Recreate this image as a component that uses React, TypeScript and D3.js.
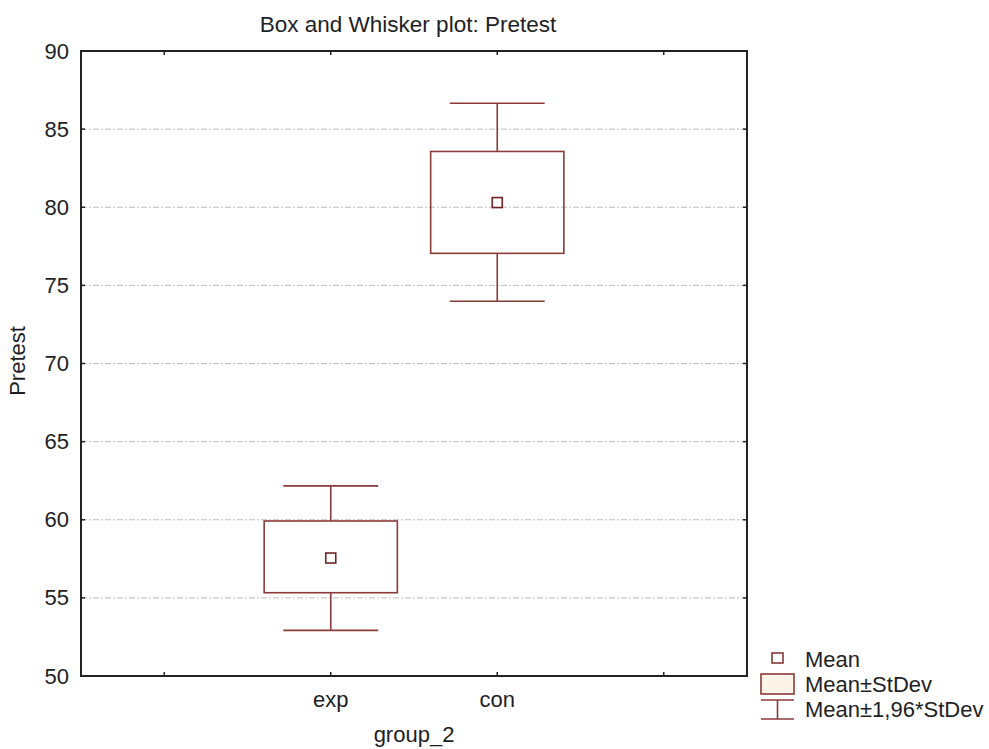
import React from 'react';
import * as d3 from 'd3';

// x slots: STATISTICA leaves an empty slot on each side
const slotLabels = ['', 'exp', 'con', ''];
const groups = ['exp', 'con'];
const means = [57.55, 80.3];
const sdLow = [55.33, 77.05];
const sdHigh = [59.92, 83.57];
const ciLow = [52.92, 73.98];
const ciHigh = [62.17, 86.66];
const yTicks = [50, 55, 60, 65, 70, 75, 80, 85, 90];
const legendLabels = ['Mean', 'Mean±StDev', 'Mean±1,96*StDev'];

const W = 989;
const H = 749;
const plot = { left: 81, right: 747, top: 51, bottom: 676 };
const boxColor = '#8b3a3a';
const font = 'Liberation Sans, Arial, sans-serif';

export default function App() {
  const x = d3
    .scaleBand<number>()
    .domain(d3.range(slotLabels.length))
    .range([plot.left, plot.right])
    .padding(0);
  const y = d3.scaleLinear().domain([50, 90]).range([plot.bottom, plot.top]);
  const bw = x.bandwidth();
  const cx = (i: number) => x(i)! + bw / 2;
  const boxW = bw * 0.8;
  const capW = bw * 0.57;
  const tick = 4;

  return (
    <svg
      width={W}
      height={H}
      style={{ position: 'absolute', left: 0, top: 0, background: '#fff' }}
      fontFamily={font}
    >
      <rect x={0} y={0} width={W} height={H} fill="#fff" />
      <text x={(plot.left + plot.right) / 2 - 6} y={32} fontSize={22.5} textAnchor="middle" fill="#1e1e24">
        Box and Whisker plot: Pretest
      </text>

      {/* grid */}
      {yTicks
        .filter((t) => t > 50 && t < 90)
        .map((t) => (
          <line
            key={'g' + t}
            x1={plot.left}
            x2={plot.right}
            y1={y(t)}
            y2={y(t)}
            stroke="#bdbdbd"
            strokeWidth={1}
            strokeDasharray="6,2,2,2"
          />
        ))}

      {/* y ticks and labels */}
      {yTicks.map((t) => (
        <g key={'y' + t}>
          <line x1={plot.left} x2={plot.left + tick} y1={y(t)} y2={y(t)} stroke="#222" strokeWidth={1.5} />
          <line x1={plot.right} x2={plot.right - tick} y1={y(t)} y2={y(t)} stroke="#222" strokeWidth={1.5} />
          <text x={69} y={y(t)} fontSize={22} textAnchor="end" dominantBaseline="central" fill="#1e1e24">
            {t}
          </text>
        </g>
      ))}

      {/* x ticks and labels */}
      {slotLabels.map((lab, i) => (
        <g key={'x' + i}>
          <line x1={cx(i)} x2={cx(i)} y1={plot.bottom} y2={plot.bottom - tick} stroke="#222" strokeWidth={1.5} />
          <line x1={cx(i)} x2={cx(i)} y1={plot.top} y2={plot.top + tick} stroke="#222" strokeWidth={1.5} />
          {lab && (
            <text x={cx(i)} y={707} fontSize={22} textAnchor="middle" fill="#1e1e24">
              {lab}
            </text>
          )}
        </g>
      ))}

      {/* boxes */}
      {groups.map((g, gi) => {
        const c = cx(slotLabels.indexOf(g));
        return (
          <g key={g} stroke={boxColor} strokeWidth={1.6} fill="none">
            <line x1={c} x2={c} y1={y(ciHigh[gi])} y2={y(sdHigh[gi])} />
            <line x1={c} x2={c} y1={y(sdLow[gi])} y2={y(ciLow[gi])} />
            <line x1={c - capW / 2} x2={c + capW / 2} y1={y(ciHigh[gi])} y2={y(ciHigh[gi])} />
            <line x1={c - capW / 2} x2={c + capW / 2} y1={y(ciLow[gi])} y2={y(ciLow[gi])} />
            <rect x={c - boxW / 2} y={y(sdHigh[gi])} width={boxW} height={y(sdLow[gi]) - y(sdHigh[gi])} />
            <rect x={c - 5} y={y(means[gi]) - 5} width={10} height={10} stroke="#6e2424" />
          </g>
        );
      })}

      {/* frame */}
      <rect
        x={plot.left}
        y={plot.top}
        width={plot.right - plot.left}
        height={plot.bottom - plot.top}
        fill="none"
        stroke="#222"
        strokeWidth={2}
      />

      {/* axis titles */}
      <text x={(plot.left + plot.right) / 2} y={742} fontSize={22} textAnchor="middle" fill="#1e1e24">
        group_2
      </text>
      <text
        transform={`translate(25,${361}) rotate(-90)`}
        fontSize={22}
        textAnchor="middle"
        fill="#1e1e24"
      >
        Pretest
      </text>

      {/* legend */}
      <g stroke={boxColor} strokeWidth={1.6}>
        <rect x={772} y={653} width={11} height={10} fill="none" />
        <rect x={761} y={674} width={33} height={20} fill="#fdf3e6" />
        <line x1={761} x2={794} y1={700} y2={700} />
        <line x1={777.5} x2={777.5} y1={700} y2={719} />
        <line x1={761} x2={794} y1={719} y2={719} />
      </g>
      {legendLabels.map((l, i) => (
        <text key={l} x={805} y={667 + i * 25} fontSize={22} fill="#1e1e24">
          {l}
        </text>
      ))}
    </svg>
  );
}
